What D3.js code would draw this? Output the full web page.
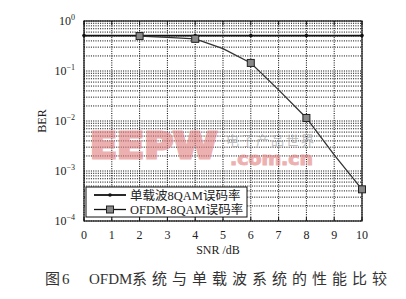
<!DOCTYPE html>
<html>
<head>
<meta charset="utf-8">
<script src="https://cdn.jsdelivr.net/npm/d3@7"></script>
<style>
  html, body { margin: 0; padding: 0; background: #fff; }
  svg { display: block; }
  .serif { font-family: "Liberation Serif", "DejaVu Serif", serif; }
  .cjk { font-family: "Noto Sans CJK SC", sans-serif; }
</style>
</head>
<body>
<div id="chart"></div>
<script>
// 数据
const snrSingle = [0, 2, 4, 6, 8, 10];
const berSingle = [0.51, 0.51, 0.51, 0.51, 0.51, 0.51];
const snrOfdm = [2, 3, 4, 5, 6, 7, 8, 9, 10];
const berOfdm = [0.50, 0.47, 0.44, 0.28, 0.145, 0.042, 0.0115, 0.0021, 0.00043];
const ofdmMarkers = [2, 4, 6, 8, 10];
const xTicks = [0, 1, 2, 3, 4, 5, 6, 7, 8, 9, 10];
const yDecades = [0, -1, -2, -3, -4];
const legendLabels = ["单载波8QAM误码率", "OFDM-8QAM误码率"];
const xLabel = "SNR /dB";
const yLabel = "BER";
const captionParts = ["图6", "OFDM", "系统与单载波系统的性能比较"];

const width = 406, height = 299;
const margin = {top: 21, right: 44, bottom: 78, left: 84};

const svg = d3.select("#chart").append("svg")
    .attr("width", width)
    .attr("height", height);

const x = d3.scaleLinear().domain([0, 10]).range([margin.left, width - margin.right]);
const y = d3.scaleLog().domain([1e-4, 1]).range([height - margin.bottom, margin.top]);

// 网格
const minor = [];
yDecades.slice(1).forEach(e => {
    for (let k = 2; k <= 9; k++) minor.push(k * Math.pow(10, e));
});
const grid = svg.append("g")
    .attr("stroke", "#000")
    .attr("stroke-width", 1)
    .attr("stroke-dasharray", "1,1.3");

grid.selectAll(".gy").data(minor.concat(yDecades.map(e => Math.pow(10, e))))
    .join("line")
    .attr("x1", x(0)).attr("x2", x(10))
    .attr("y1", d => y(d)).attr("y2", d => y(d));

grid.selectAll(".gx").data(xTicks)
    .join("line")
    .attr("x1", d => x(d)).attr("x2", d => x(d))
    .attr("y1", y(1)).attr("y2", y(1e-4));

// 水印
const wm = svg.append("g").attr("opacity", 0.6);
wm.append("text")
    .attr("x", 90).attr("y", 158)
    .attr("font-family", "DejaVu Sans, Liberation Sans, sans-serif")
    .attr("font-weight", "bold")
    .attr("font-size", 36)
    .attr("textLength", 127)
    .attr("lengthAdjust", "spacingAndGlyphs")
    .attr("fill", "#e27d7d")
    .attr("stroke", "#e27d7d")
    .attr("stroke-width", 3)
    .text("EEPW");
wm.append("text")
    .attr("x", 230).attr("y", 165)
    .attr("font-family", "DejaVu Sans, Liberation Sans, sans-serif")
    .attr("font-weight", "bold")
    .attr("font-size", 17)
    .attr("textLength", 83)
    .attr("lengthAdjust", "spacingAndGlyphs")
    .attr("fill", "#e27d7d")
    .attr("stroke", "#e27d7d")
    .attr("stroke-width", 1)
    .text(".com.cn");
wm.append("text")
    .attr("x", 226).attr("y", 145)
    .attr("class", "cjk")
    .attr("font-size", 13)
    .attr("textLength", 88)
    .attr("fill", "#999")
    .text("电子产品世界");

// 坐标框
svg.append("rect")
    .attr("x", x(0)).attr("y", y(1))
    .attr("width", x(10) - x(0))
    .attr("height", y(1e-4) - y(1))
    .attr("fill", "none")
    .attr("stroke", "#111")
    .attr("stroke-width", 1.2);

// 刻度（向内）
const ticks = svg.append("g").attr("stroke", "#111").attr("stroke-width", 1);
ticks.selectAll(".tb").data(xTicks).join("line")
    .attr("x1", d => x(d)).attr("x2", d => x(d))
    .attr("y1", y(1e-4)).attr("y2", y(1e-4) - 4);
ticks.selectAll(".tt").data(xTicks).join("line")
    .attr("x1", d => x(d)).attr("x2", d => x(d))
    .attr("y1", y(1)).attr("y2", y(1) + 4);

// 坐标标签
svg.append("g").attr("class", "serif")
    .selectAll("text").data(xTicks).join("text")
    .attr("x", d => x(d))
    .attr("y", y(1e-4) + 18)
    .attr("text-anchor", "middle")
    .attr("font-size", 12)
    .attr("fill", "#222")
    .text(d => d);

const yl = svg.append("g").attr("class", "serif")
    .selectAll("text").data(yDecades).join("text")
    .attr("x", x(0) - 9)
    .attr("y", d => y(Math.pow(10, d)) + 4)
    .attr("text-anchor", "end")
    .attr("font-size", 12)
    .attr("fill", "#222");
yl.append("tspan").text("10");
yl.append("tspan")
    .attr("dy", -5)
    .attr("font-size", 8)
    .text(d => d === 0 ? "0" : "−" + Math.abs(d));

svg.append("text").attr("class", "serif")
    .attr("transform", `translate(46,${(y(1) + y(1e-4)) / 2}) rotate(-90)`)
    .attr("text-anchor", "middle")
    .attr("font-size", 12)
    .attr("fill", "#222")
    .text(yLabel);

svg.append("text").attr("class", "serif")
    .attr("x", 218).attr("y", 254)
    .attr("text-anchor", "middle")
    .attr("font-size", 12)
    .attr("fill", "#222")
    .text(xLabel);

// 曲线
const line = d3.line().x(d => x(d[0])).y(d => y(d[1]));
const singleData = d3.zip(snrSingle, berSingle);
const ofdmData = d3.zip(snrOfdm, berOfdm);

svg.append("path")
    .datum(singleData)
    .attr("fill", "none")
    .attr("stroke", "#111")
    .attr("stroke-width", 1.8)
    .attr("d", line);

svg.append("path")
    .datum(ofdmData)
    .attr("fill", "none")
    .attr("stroke", "#333")
    .attr("stroke-width", 1.3)
    .attr("d", line);

svg.append("g").selectAll("circle").data(singleData).join("circle")
    .attr("cx", d => x(d[0])).attr("cy", d => y(d[1]))
    .attr("r", 1.8)
    .attr("fill", "#111");

const markerData = ofdmData.filter(d => ofdmMarkers.includes(d[0]));
svg.append("g").selectAll("rect").data(markerData).join("rect")
    .attr("x", d => x(d[0]) - 3.5).attr("y", d => y(d[1]) - 3.5)
    .attr("width", 7).attr("height", 7)
    .attr("fill", "#888")
    .attr("stroke", "#222")
    .attr("stroke-width", 1);

// 图例
const lg = svg.append("g").attr("transform", "translate(86,187)");
lg.append("rect")
    .attr("width", 161).attr("height", 30)
    .attr("fill", "#fff")
    .attr("stroke", "#111")
    .attr("stroke-width", 1);
legendLabels.forEach((label, i) => {
    const row = lg.append("g").attr("transform", `translate(0,${8 + i * 14.5})`);
    row.append("line")
        .attr("x1", 8).attr("x2", 40)
        .attr("stroke", "#111")
        .attr("stroke-width", i === 0 ? 1.8 : 1.3);
    if (i === 0) {
        row.append("circle").attr("cx", 24).attr("r", 1.8).attr("fill", "#111");
    } else {
        row.append("rect")
            .attr("x", 20.5).attr("y", -3.5)
            .attr("width", 7).attr("height", 7)
            .attr("fill", "#888").attr("stroke", "#222");
    }
    row.append("text")
        .attr("x", 44).attr("y", 4.5)
        .attr("font-family", "Liberation Serif, Noto Sans CJK SC, serif")
        .attr("font-size", 12.5)
        .attr("fill", "#222")
        .text(label);
});

// 图题
const cap = svg.append("text")
    .attr("y", 284)
    .attr("font-family", "Liberation Serif, Noto Sans CJK SC, serif")
    .attr("font-size", 15)
    .attr("fill", "#333");
cap.append("tspan").attr("x", 45).attr("letter-spacing", 2).text(captionParts[0]);
cap.append("tspan").attr("x", 89).text(captionParts[1]);
cap.append("tspan").attr("x", 132).attr("letter-spacing", 5).text(captionParts[2]);
</script>
</body>
</html>
